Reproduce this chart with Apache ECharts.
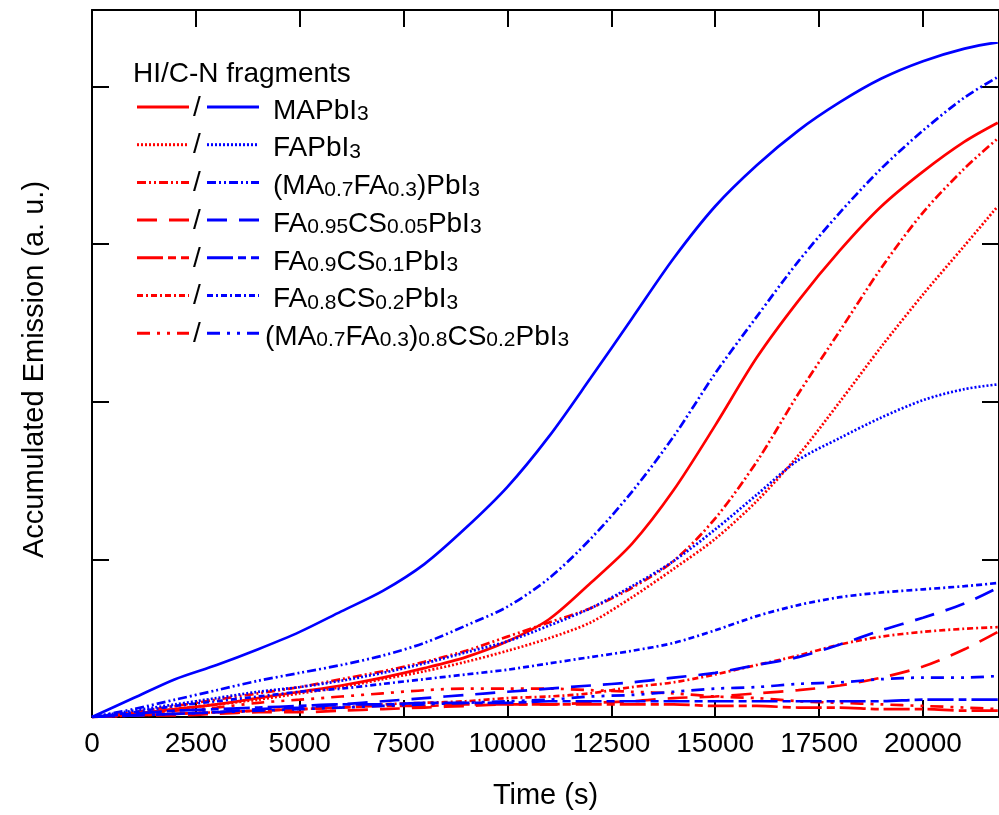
<!DOCTYPE html>
<html>
<head>
<meta charset="utf-8">
<script src="https://cdn.jsdelivr.net/npm/echarts@6/dist/echarts.min.js"></script>
<style>html,body{margin:0;padding:0;background:#fff}#c{width:999px;height:815px}</style>
</head>
<body>
<div id="c"></div>
<script>
// time grid (s)
const times = [0,1000,2000,3000,4000,5000,6000,7000,8000,9000,10000,11000,12000,13000,14000,15000,16000,17000,18000,19000,20000,21000,21800];
const xTicks = [0,2500,5000,7500,10000,12500,15000,17500,20000];

// C-N fragments (blue)
const cnMAPbI3     = [0,0.12,0.24,0.33,0.43,0.54,0.67,0.80,0.97,1.20,1.46,1.78,2.15,2.53,2.91,3.24,3.50,3.72,3.90,4.05,4.16,4.24,4.28];
const cnFAPbI3     = [0,0.04,0.08,0.12,0.16,0.19,0.23,0.28,0.34,0.41,0.48,0.58,0.69,0.83,0.99,1.19,1.41,1.63,1.77,1.90,2.01,2.08,2.11];
const cnMAFA       = [0,0.05,0.11,0.17,0.23,0.28,0.33,0.39,0.47,0.58,0.70,0.88,1.13,1.43,1.78,2.18,2.54,2.89,3.20,3.48,3.72,3.93,4.06];
const cnFA95CS05   = [0,0.01,0.02,0.03,0.05,0.06,0.08,0.10,0.12,0.14,0.16,0.18,0.20,0.22,0.25,0.28,0.33,0.38,0.46,0.55,0.63,0.72,0.82];
const cnFA9CS1     = [0,0.02,0.04,0.05,0.06,0.07,0.08,0.08,0.09,0.09,0.09,0.10,0.10,0.10,0.10,0.10,0.10,0.10,0.10,0.10,0.11,0.11,0.11];
const cnFA8CS2     = [0,0.03,0.07,0.10,0.13,0.16,0.18,0.21,0.24,0.27,0.30,0.34,0.38,0.42,0.47,0.55,0.64,0.71,0.76,0.79,0.81,0.83,0.85];
const cnMAFACS     = [0,0.01,0.02,0.03,0.04,0.05,0.06,0.07,0.08,0.09,0.10,0.11,0.13,0.14,0.16,0.18,0.19,0.21,0.22,0.24,0.25,0.25,0.26];

// HI fragments (red)
const hiMAPbI3     = [0,0.02,0.05,0.08,0.12,0.16,0.20,0.25,0.31,0.38,0.48,0.62,0.85,1.10,1.44,1.85,2.28,2.64,2.96,3.24,3.46,3.65,3.77];
const hiFAPbI3     = [0,0.02,0.05,0.08,0.11,0.15,0.19,0.24,0.29,0.35,0.42,0.50,0.60,0.76,0.94,1.13,1.37,1.66,2.00,2.35,2.68,2.99,3.24];
const hiMAFA       = [0,0.03,0.07,0.11,0.15,0.19,0.24,0.29,0.35,0.42,0.51,0.60,0.69,0.82,0.99,1.26,1.62,2.05,2.45,2.85,3.20,3.48,3.67];
const hiFA95CS05   = [0,0.01,0.01,0.02,0.03,0.03,0.04,0.05,0.06,0.07,0.08,0.08,0.09,0.10,0.12,0.13,0.15,0.17,0.20,0.25,0.32,0.43,0.54];
const hiFA9CS1     = [0,0.01,0.02,0.03,0.04,0.05,0.06,0.07,0.07,0.08,0.08,0.08,0.08,0.08,0.08,0.07,0.07,0.06,0.06,0.05,0.05,0.04,0.04];
const hiFA8CS2     = [0,0.01,0.02,0.03,0.04,0.05,0.06,0.08,0.09,0.10,0.12,0.13,0.15,0.19,0.22,0.27,0.33,0.39,0.46,0.51,0.54,0.56,0.57];
const hiMAFACS     = [0,0.02,0.04,0.06,0.09,0.11,0.13,0.15,0.17,0.18,0.18,0.18,0.17,0.16,0.15,0.13,0.12,0.10,0.09,0.08,0.07,0.06,0.05];

const legendTitle = 'HI/C-N fragments';
const legendLabels = [
  '{n|MAPbI}{s|3}',
  '{n|FAPbI}{s|3}',
  '{n|(MA}{s|0.7}{n|FA}{s|0.3}{n|)PbI}{s|3}',
  '{n|FA}{s|0.95}{n|CS}{s|0.05}{n|PbI}{s|3}',
  '{n|FA}{s|0.9}{n|CS}{s|0.1}{n|PbI}{s|3}',
  '{n|FA}{s|0.8}{n|CS}{s|0.2}{n|PbI}{s|3}',
  '{n|(MA}{s|0.7}{n|FA}{s|0.3}{n|)}{s|0.8}{n|CS}{s|0.2}{n|PbI}{s|3}'
];
const seriesNames = ['MAPbI3','FAPbI3','(MA0.7FA0.3)PbI3','FA0.95CS0.05PbI3','FA0.9CS0.1PbI3','FA0.8CS0.2PbI3','(MA0.7FA0.3)0.8CS0.2PbI3'];

const RED = '#ff0000', BLUE = '#0000ff';
const dashes = [
  'solid',
  [2,2],
  [9,3,2,3,2,3],
  [20,12],
  [26,5,8,5],
  [6,3,2,3],
  [13,7,3,7,3,7]
];
const hiData = [hiMAPbI3,hiFAPbI3,hiMAFA,hiFA95CS05,hiFA9CS1,hiFA8CS2,hiMAFACS];
const cnData = [cnMAPbI3,cnFAPbI3,cnMAFA,cnFA95CS05,cnFA9CS1,cnFA8CS2,cnMAFACS];

const FONT = 'Liberation Sans, Arial, sans-serif';
const series = [];
function mk(name, arr, color, dash) {
  return {
    name: name, type: 'line', showSymbol: false, symbol: 'none', smooth: 0.3,
    data: times.map((t, i) => [t, arr[i]]),
    lineStyle: { color: color, width: 2.7, type: dash },
    silent: true, animation: false
  };
}
for (let i = 0; i < 7; i++) series.push(mk('HI ' + seriesNames[i], hiData[i], RED, dashes[i]));
for (let i = 0; i < 7; i++) series.push(mk('C-N ' + seriesNames[i], cnData[i], BLUE, dashes[i]));

// legend drawn as graphic
const graphic = [];
graphic.push({ type: 'text', x: 133, y: 74, style: { text: legendTitle, fontSize: 28, fontFamily: FONT, fill: '#000', verticalAlign: 'middle' } });
const rowY0 = 107, rowStep = 37.7;
for (let i = 0; i < 7; i++) {
  const y = rowY0 + i * rowStep;
  const dash = dashes[i] === 'solid' ? null : dashes[i];
  graphic.push({ type: 'line', shape: { x1: 137, y1: y, x2: 189, y2: y }, style: { stroke: RED, lineWidth: 3, lineDash: dash } });
  graphic.push({ type: 'text', x: 193, y: y + 1, style: { text: '/', fontSize: 28, fontFamily: FONT, fill: '#000', verticalAlign: 'middle' } });
  graphic.push({ type: 'line', shape: { x1: 207, y1: y, x2: 259, y2: y }, style: { stroke: BLUE, lineWidth: 3, lineDash: dash } });
  graphic.push({ type: 'text', x: i === 6 ? 265 : 273, y: y + 4, style: {
    text: legendLabels[i], verticalAlign: 'middle', fill: '#000',
    rich: {
      n: { fontSize: 28, fontFamily: FONT, fill: '#000', lineHeight: 28 },
      s: { fontSize: 21, fontFamily: FONT, fill: '#000', lineHeight: 6, verticalAlign: 'bottom' }
    }
  } });
}

const chart = echarts.init(document.getElementById('c'), null, { renderer: 'canvas' });
const axisLine = { show: true, onZero: false, lineStyle: { color: '#000', width: 2 } };
const tick = { show: true, inside: true, length: 17, lineStyle: { color: '#000', width: 2 } };
chart.setOption({
  animation: false,
  backgroundColor: '#fff',
  grid: { left: 92, top: 10, width: 910, height: 712, containLabel: false },
  xAxis: [{
    type: 'value', min: 0, max: 21830, interval: 2500, position: 'bottom',
    axisLine: axisLine, splitLine: { show: false }, axisTick: tick,
    axisLabel: { show: true, color: '#000', fontSize: 28, fontFamily: FONT, margin: 13, showMaxLabel: false,
      formatter: v => xTicks.indexOf(v) >= 0 ? String(v) : '' },
    name: 'Time (s)', nameLocation: 'middle', nameGap: 64,
    nameTextStyle: { color: '#000', fontSize: 29, fontFamily: FONT }
  }, {
    type: 'value', min: 0, max: 21830, interval: 2500, position: 'top',
    axisLine: axisLine, splitLine: { show: false }, axisTick: tick,
    axisLabel: { show: false }
  }],
  yAxis: [{
    type: 'value', min: 0, max: 4.485, interval: 1, position: 'left',
    axisLine: axisLine, splitLine: { show: false }, axisTick: tick,
    axisLabel: { show: false },
    name: 'Accumulated Emission (a. u.)', nameLocation: 'middle', nameGap: 43, nameRotate: 90,
    nameTextStyle: { color: '#000', fontSize: 29, fontFamily: FONT, padding: [0, 12, 0, 0] }
  }, {
    type: 'value', min: 0, max: 4.485, interval: 1, position: 'right',
    axisLine: axisLine, splitLine: { show: false }, axisTick: tick,
    axisLabel: { show: false }
  }],
  series: series,
  graphic: graphic
});
</script>
</body>
</html>
